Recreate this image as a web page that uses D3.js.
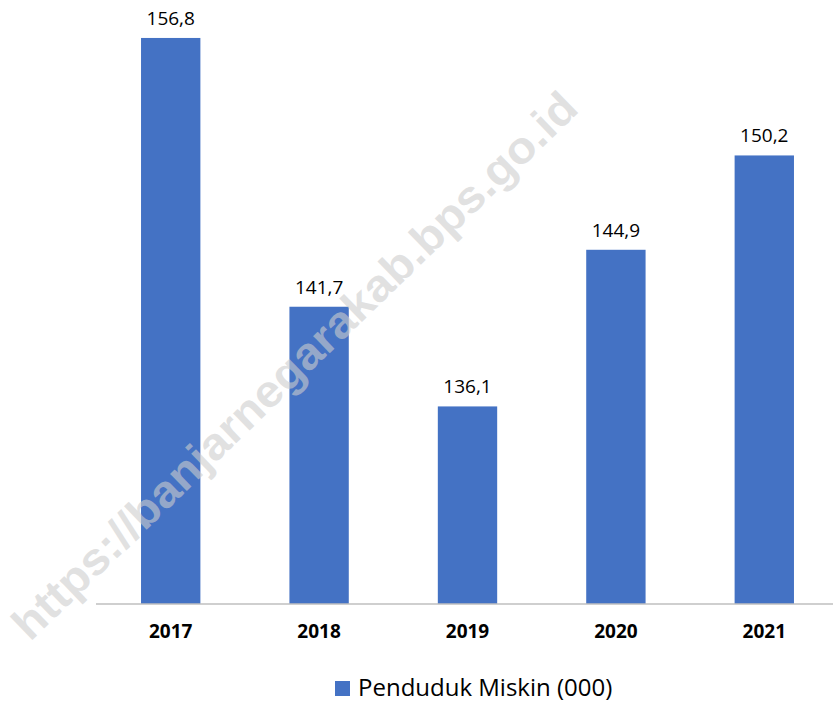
<!DOCTYPE html>
<html>
<head>
<meta charset="utf-8">
<script src="https://cdn.jsdelivr.net/npm/d3@7"></script>
<style>
  body { margin: 0; background: #fff; }
  svg { display: block; }
</style>
</head>
<body>
<script>
var width = 833;
var height = 702;

var years = ["2017", "2018", "2019", "2020", "2021"];
var poorPop = [156.8, 141.7, 136.1, 144.9, 150.2];
var seriesName = "Penduduk Miskin (000)";
var watermark = "https://banjarnegarakab.bps.go.id";

var barColor = "#4472c4";
var labelFont = "'Open Sans', 'Noto Sans', sans-serif";

var svg = d3.select("body")
    .append("svg")
    .attr("width", width)
    .attr("height", height);

var x = d3.scaleBand()
    .domain(years)
    .range([102, 833])
    .paddingInner(0.6)
    .paddingOuter(0.263);

// axis does not start at zero
var y = d3.scaleLinear()
    .domain([125, 160])
    .range([604, -19]);

// bars
svg.selectAll("rect.bar")
    .data(poorPop)
    .enter()
    .append("rect")
    .attr("class", "bar")
    .attr("x", function(d, i) { return x(years[i]); })
    .attr("y", function(d) { return y(d); })
    .attr("width", x.bandwidth())
    .attr("height", function(d) { return y(125) - y(d); })
    .attr("fill", barColor);

// value labels
svg.selectAll("text.val")
    .data(poorPop)
    .enter()
    .append("text")
    .attr("class", "val")
    .attr("x", function(d, i) { return x(years[i]) + x.bandwidth() / 2; })
    .attr("y", function(d) { return y(d) - 13; })
    .attr("text-anchor", "middle")
    .attr("font-family", labelFont)
    .attr("font-size", 19)
    .attr("fill", "#000")
    .text(function(d) { return d.toFixed(1).replace(".", ","); });

// baseline, a bit wider than the band range
svg.append("line")
    .attr("x1", 96)
    .attr("x2", 833)
    .attr("y1", 604)
    .attr("y2", 604)
    .attr("stroke", "#bfbfbf")
    .attr("stroke-width", 1.5);

// x axis labels
var xAxis = svg.append("g")
    .attr("transform", "translate(0,604)")
    .call(d3.axisBottom(x).tickSize(0));
xAxis.select(".domain").remove();
xAxis.selectAll("text")
    .attr("y", 34)
    .attr("dy", 0)
    .attr("font-family", labelFont)
    .attr("font-size", 19)
    .attr("font-weight", "bold")
    .attr("fill", "#000");

// legend
var legend = svg.append("g").attr("transform", "translate(335,681)");
legend.append("rect")
    .attr("width", 15)
    .attr("height", 15)
    .attr("fill", barColor);
legend.append("text")
    .attr("x", 23)
    .attr("y", 15)
    .attr("font-family", labelFont)
    .attr("font-size", 24)
    .attr("fill", "#000")
    .text(seriesName);

// watermark on top
svg.append("text")
    .attr("transform", "translate(297,368) rotate(-44)")
    .attr("text-anchor", "middle")
    .attr("dominant-baseline", "middle")
    .attr("font-family", "'Liberation Sans', Arial, sans-serif")
    .attr("font-weight", "bold")
    .attr("font-size", 45)
    .attr("textLength", 765)
    .attr("lengthAdjust", "spacingAndGlyphs")
    .attr("fill", "rgba(205,205,205,0.6)")
    .text(watermark);
</script>
</body>
</html>
